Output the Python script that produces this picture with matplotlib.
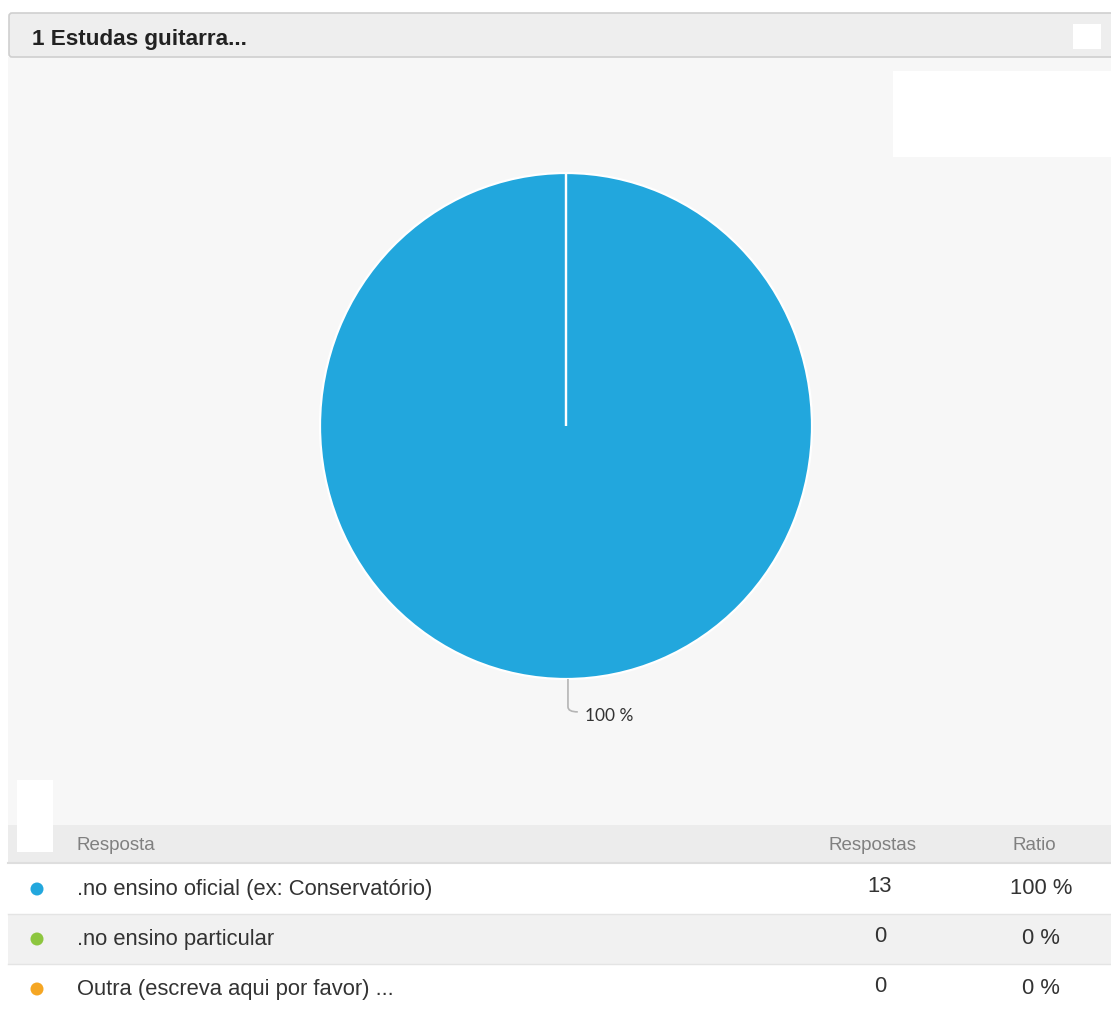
import matplotlib
matplotlib.use("Agg")
import matplotlib.pyplot as plt
from matplotlib.patches import Rectangle, FancyBboxPatch, Circle
from matplotlib.path import Path
from matplotlib.patches import PathPatch
import numpy as np

# --- data -------------------------------------------------------------
title = "1 Estudas guitarra..."
categories = [".no ensino oficial (ex: Conservatório)",
              ".no ensino particular",
              "Outra (escreva aqui por favor) ..."]
responses = [13, 0, 0]
colors = ["#22a7dd", "#8dc63f", "#f5a623"]
col_headers = ["Resposta", "Respostas", "Ratio"]

total = sum(responses)
ratios = [100.0 * v / total for v in responses]

W, H = 1111, 1017
fig = plt.figure(figsize=(W / 100, H / 100), dpi=100)
fig.patch.set_facecolor("white")

# full-figure canvas in pixel coordinates (y down)
bg = fig.add_axes([0, 0, 1, 1])
bg.set_xlim(0, W)
bg.set_ylim(H, 0)
bg.axis("off")

FONT = "Liberation Sans"

# panel background
bg.add_patch(Rectangle((8, 57), W - 8, 768, facecolor="#f7f7f7", edgecolor="none", zorder=0))
# header bar
bg.add_patch(FancyBboxPatch((9, 13), W + 10, 44, boxstyle="round,pad=0,rounding_size=3",
                            facecolor="#eeeeee", edgecolor="#cfcfcf", linewidth=1.2, zorder=1))
bg.text(32, 37, title, fontsize=16.2, fontweight="bold", family=FONT, color="#222222",
        va="center_baseline", ha="left", zorder=2)
bg.add_patch(Rectangle((1073, 24), 28, 25, facecolor="white", edgecolor="none", zorder=2))
# blank boxes in the panel
bg.add_patch(Rectangle((893, 71), W - 893, 86, facecolor="white", edgecolor="none", zorder=1))
bg.add_patch(Rectangle((17, 780), 36, 72, facecolor="white", edgecolor="none", zorder=3))

# table
header_top, header_h, row_h = 825, 38, 50
bg.add_patch(Rectangle((8, header_top), W - 8, header_h, facecolor="#ececec", edgecolor="none", zorder=1))
bg.plot([8, W], [header_top + header_h, header_top + header_h], color="#dedede", lw=1.5, zorder=2)
hy = header_top + header_h / 2 + 1
bg.text(77, hy, col_headers[0], fontsize=13.5, family=FONT, color="#808080", va="center", ha="left", zorder=4)
bg.text(872, hy, col_headers[1], fontsize=13.5, family=FONT, color="#808080", va="center", ha="center", zorder=4)
bg.text(1034, hy, col_headers[2], fontsize=13.5, family=FONT, color="#808080", va="center", ha="center", zorder=4)

for i, (cat, n, r, c) in enumerate(zip(categories, responses, ratios, colors)):
    top = header_top + header_h + 1 + i * row_h
    face = "white" if i % 2 == 0 else "#f1f1f1"
    bg.add_patch(Rectangle((8, top), W - 8, row_h, facecolor=face, edgecolor="none", zorder=1))
    if i > 0:
        bg.plot([8, W], [top, top], color="#e4e4e4", lw=1, zorder=2)
    cy = top + row_h / 2
    bg.add_patch(Circle((37, cy), 6.5, facecolor=c, edgecolor="none", zorder=3))
    bg.text(77, cy + 1, cat, fontsize=15.8, family=FONT, color="#333333", va="center", ha="left", zorder=4)
    bg.text(880, cy - 2, f"{n}", fontsize=15.8, family=FONT, color="#333333", va="center", ha="center", zorder=4)
    bg.text(1041, cy - 1, f"{r:.0f} %", fontsize=15.8, family=FONT, color="#333333", va="center", ha="center", zorder=4)

# pie chart
cx, cyp, rx, ry = 566, 426, 246, 253
pie_ax = fig.add_axes([(cx - rx) / W, (H - cyp - ry) / H, 2 * rx / W, 2 * ry / H])
pie_ax.axis("off")
wedges, _ = pie_ax.pie(responses, colors=colors, startangle=90, counterclock=False,
                       wedgeprops=dict(edgecolor="white", linewidth=1.6))
pie_ax.set_xlim(-1, 1)
pie_ax.set_ylim(-1, 1)
pie_ax.set_aspect("auto")

# leader line and percentage label for visible slices
for w, r in zip(wedges, ratios):
    if r <= 0:
        continue
    mid = np.deg2rad((w.theta1 + w.theta2) / 2)
    x0, y0 = np.cos(mid) + 0.008, np.sin(mid)
    verts = [(x0, y0), (x0, y0 - 0.11), (x0, y0 - 0.13), (x0 + 0.04, y0 - 0.13)]
    codes = [Path.MOVETO, Path.LINETO, Path.CURVE3, Path.CURVE3]
    pie_ax.add_patch(PathPatch(Path(verts, codes), facecolor="none", edgecolor="#b5b5b5",
                               lw=1.2, clip_on=False))
    pie_ax.text(x0 + 0.07, y0 - 0.145, f"{r:.0f} %", fontsize=12.5, family="Lato",
                color="#333333", va="center", ha="left", clip_on=False)

fig.savefig("out.png", dpi=100, facecolor="white")
